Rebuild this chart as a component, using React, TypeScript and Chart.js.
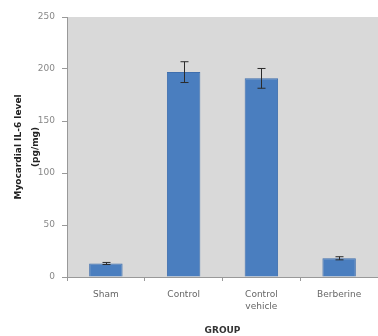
import React, { useEffect, useRef } from "react";
import { Chart, registerables } from "chart.js";

Chart.register(...registerables);

const categories: (string | string[])[] = ["Sham", "Control", ["Control", "vehicle"], "Berberine"];
const values = [13, 197, 191, 18];
const errors = [1, 10, 9.5, 1.5];
const yTicks = [0, 50, 100, 150, 200, 250];

const bgPlugin = {
  id: "plotBg",
  beforeDraw(chart: any) {
    const { ctx, chartArea } = chart;
    ctx.save();
    ctx.fillStyle = "#d9d9d9";
    ctx.fillRect(chartArea.left, chartArea.top, chartArea.right - chartArea.left, chartArea.bottom - chartArea.top);
    ctx.restore();
  },
};

const errPlugin = {
  id: "errBars",
  afterDatasetsDraw(chart: any) {
    const { ctx } = chart;
    const meta = chart.getDatasetMeta(0);
    const y = chart.scales.y;
    ctx.save();
    ctx.strokeStyle = "#2b2b2b";
    ctx.lineWidth = 1;
    meta.data.forEach((bar: any, i: number) => {
      const x = Math.round(bar.x) + 0.5;
      const top = y.getPixelForValue(values[i] + errors[i]);
      const bot = y.getPixelForValue(values[i] - errors[i]);
      ctx.beginPath();
      ctx.moveTo(x, top);
      ctx.lineTo(x, bot);
      ctx.moveTo(x - 4, top);
      ctx.lineTo(x + 4, top);
      ctx.moveTo(x - 4, bot);
      ctx.lineTo(x + 4, bot);
      ctx.stroke();
    });
    ctx.restore();
  },
};

export default function App() {
  const ref = useRef<HTMLCanvasElement>(null);
  useEffect(() => {
    document.body.style.margin = "0";
    const chart = new Chart(ref.current!, {
      type: "bar",
      data: {
        labels: categories as any,
        datasets: [
          {
            data: values,
            backgroundColor: "#4a7ebf",
            borderColor: "#3f6fae",
            borderWidth: 1,
            barPercentage: 0.43,
            categoryPercentage: 1,
          },
        ],
      },
      options: {
        animation: false,
        responsive: false,
        layout: { padding: { left: 0, right: 0, top: 17, bottom: 0 } },
        plugins: { legend: { display: false }, tooltip: { enabled: false } },
        scales: {
          x: {
            grid: { offset: true, drawOnChartArea: false, drawTicks: true, tickLength: 4, color: "#999" },
            border: { color: "#999" },
            ticks: { color: "#666", font: { family: "DejaVu Sans", size: 9, lineHeight: 1.3 }, padding: 8, maxRotation: 0, autoSkip: false },
            title: {
              display: true,
              text: "GROUP",
              color: "#333",
              font: { family: "DejaVu Sans", size: 9, weight: "bold" },
              padding: { top: 6, bottom: 0 },
            },
            afterFit: (s: any) => {
              s.height = 59;
            },
          },
          y: {
            min: 0,
            max: 250,
            afterBuildTicks: (s: any) => {
              s.ticks = yTicks.map((v) => ({ value: v }));
            },
            grid: { drawOnChartArea: false, drawTicks: true, tickLength: 5, color: "#999" },
            border: { color: "#999" },
            ticks: { color: "#888", font: { family: "DejaVu Sans", size: 9 }, padding: 7 },
            title: {
              display: true,
              text: ["Myocardial IL-6 level", "(pg/mg)"],
              color: "#222",
              font: { family: "DejaVu Sans", size: 9, weight: "bold", lineHeight: 1.8 },
              padding: { top: 11, bottom: 0 },
            },
            afterFit: (s: any) => {
              s.width = 67;
            },
          },
        },
      },
      plugins: [bgPlugin, errPlugin],
    });
    return () => chart.destroy();
  }, []);
  return <canvas ref={ref} width={378} height={336} style={{ display: "block" }} />;
}
